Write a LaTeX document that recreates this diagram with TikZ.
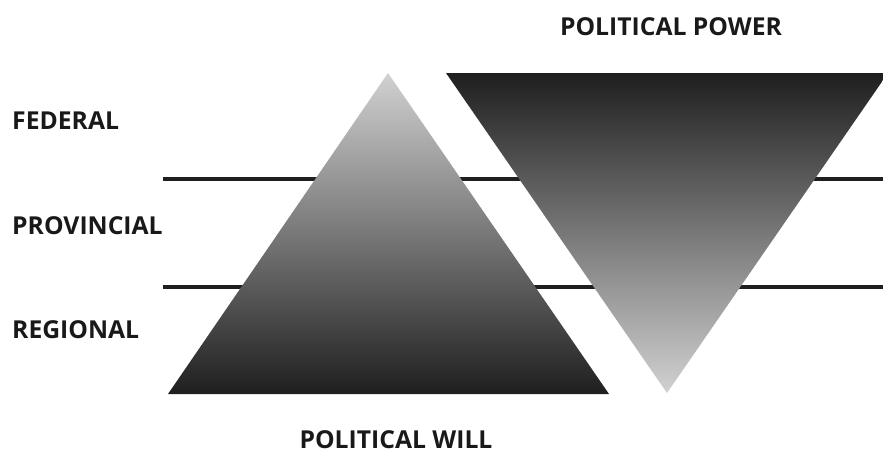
\documentclass[tikz,border=0pt]{standalone}
\usepackage{fontspec}
\setmainfont{Open Sans}
\begin{document}
\begin{tikzpicture}[x=1pt,y=-1pt,
  lbl/.style={font=\bfseries\fontsize{24.7}{28}\selectfont, text=black!90, inner sep=0pt},
  level/.style={line width=4.5pt, draw=black!88},
  tri/.style={draw=none}]
\useasboundingbox (0,0) rectangle (883,452);
% level lines
\coordinate (l1a) at (163,179);
\coordinate (l1b) at (883,179);
\coordinate (l2a) at (163,287);
\coordinate (l2b) at (883,287);
\draw[level] (l1a) -- (l1b);
\draw[level] (l2a) -- (l2b);
% pyramid (political will)
\coordinate (wa) at (388,73);
\coordinate (wl) at (168,394);
\coordinate (wr) at (609,394);
\shade[tri, top color=black!18, bottom color=black!88] (wa) -- (wr) -- (wl) -- cycle;
% inverted pyramid (political power)
\coordinate (pl) at (446,73);
\coordinate (pr) at (888,73);
\coordinate (pb) at (667,393);
\shade[tri, top color=black!88, bottom color=black!18] (pl) -- (pr) -- (pb) -- cycle;
% labels
\node[lbl, anchor=west] (fed) at (12,121) {FEDERAL};
\node[lbl, anchor=west] (prov) at (12,226) {PROVINCIAL};
\node[lbl, anchor=west] (reg) at (12,330) {REGIONAL};
\node[lbl] (power) at (671,27) {POLITICAL POWER};
\node[lbl] (will) at (396,440) {POLITICAL WILL};
\end{tikzpicture}
\end{document}
